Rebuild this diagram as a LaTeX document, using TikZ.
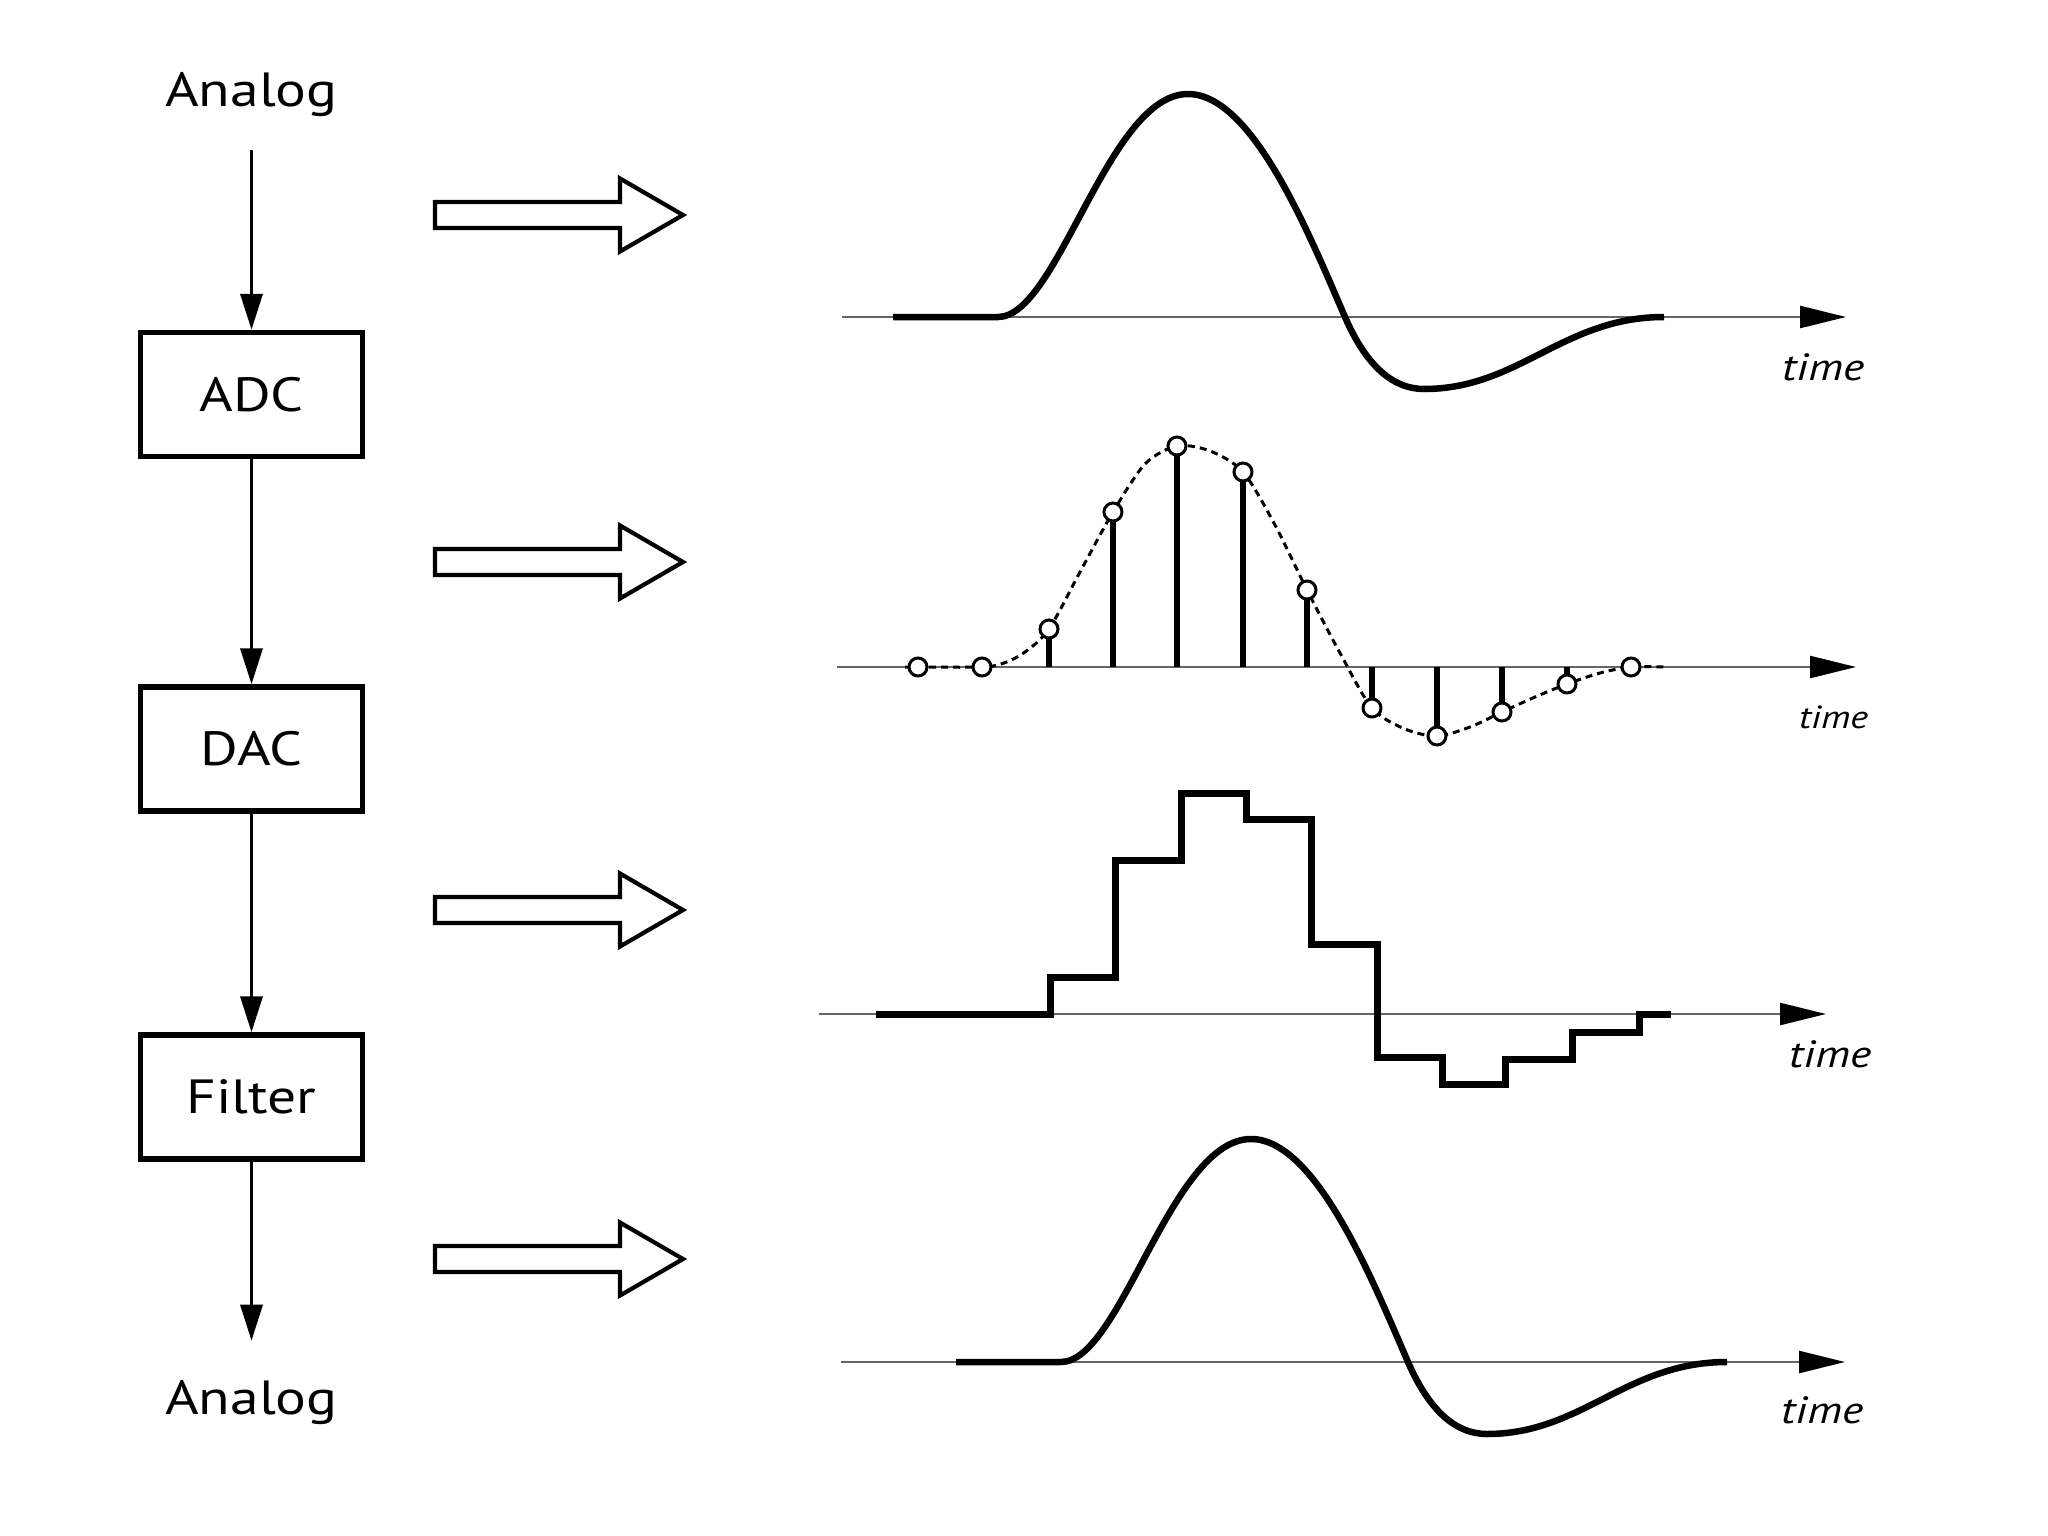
\documentclass[tikz,border=0pt]{standalone}
\usepackage{fontspec}
\setmainfont{PT Sans}
\newfontfamily\lab{PT Sans}[FakeStretch=1.2]
\usetikzlibrary{arrows.meta}
\tikzset{
 blk/.style={draw, line width=5.5pt, minimum width=222pt, minimum height=124pt, inner sep=0pt, font=\lab\fontsize{48}{56}\selectfont},
 lbl/.style={inner sep=0pt, font=\lab\fontsize{48}{56}\selectfont},
 tlbl/.style={inner sep=0pt, anchor=base west, font=\lab\itshape\fontsize{38}{44}\selectfont},
 tlbls/.style={inner sep=0pt, anchor=base west, font=\lab\itshape\fontsize{32}{38}\selectfont},
 flow/.style={line width=3.5pt, -{Triangle[length=36pt,width=22pt]}},
 axisln/.style={line width=2.5pt, black!60, -{Triangle[length=46pt,width=22pt,color=black]}},
 sig/.style={line width=6.5pt, line join=round},
 stair/.style={line width=7pt, line join=miter},
 dashsig/.style={line width=3pt, dash pattern=on 7pt off 5pt},
 stem/.style={line width=5.5pt},
 smp/.style={circle, draw, fill=white, line width=3pt, minimum size=18pt, inner sep=0pt},
 hollow/.style={draw, line width=4.2pt, fill=white, line join=miter},
 pulse/.pic={
   \draw[sig] (-105,0) -- (0,0) .. controls (60,0) and (110,-223) .. (190,-223)
     .. controls (255,-223) and (312,-80.5) .. (347,0)
     .. controls (369,50.6) and (396,72) .. (426,72)
     .. controls (521,72) and (565,0) .. (666,0);
 },
}
\begin{document}
\begin{tikzpicture}[x=1pt,y=-1pt]
\useasboundingbox (0,0) rectangle (2048,1536);
% left chain
\node[lbl, anchor=base] (ain) at (251.5,107) {Analog};
\node[blk] (adc) at (251.5,394.5) {ADC};
\node[blk] (dac) at (251.5,749) {DAC};
\node[blk] (flt) at (251.5,1097) {Filter};
\node[lbl, anchor=base] (aout) at (251.5,1414) {Analog};
\draw[flow, shorten <=33pt] (ain) -- (adc);
\draw[flow] (adc) -- (dac);
\draw[flow] (dac) -- (flt);
\draw[flow, shorten >=39pt] (flt) -- (aout);
% hollow arrows
\foreach \c in {215,562,910,1259} {
  \draw[hollow] (435,{\c-13}) -- (620,{\c-13}) -- (620,{\c-36.5}) -- (683,\c)
     -- (620,{\c+36.5}) -- (620,{\c+13}) -- (435,{\c+13}) -- cycle;
}
% panel 1: analog signal
\draw[axisln] (842,317) -- (1846,317);
\pic at (998,317) {pulse};
\node[tlbl] (t1) at (1782,380) {time};
% panel 2: sampled signal
\draw[axisln] (837,667) -- (1856,667);
\begin{scope}[shift={(0,667)}]
\draw[dashsig] plot[smooth] coordinates {(905,0) (918,0) (982,0) (1004,-4) (1025,-15) (1049,-38) (1080,-95) (1113,-155) (1145,-203) (1177,-221) (1210,-216) (1243,-195) (1275,-142) (1307,-77) (1340,-14) (1372,41) (1405,62) (1437,69) (1470,60) (1502,45) (1535,30) (1567,17) (1600,6) (1631,0) (1665,0)};
\foreach \x/\a in {1049/38,1113/155,1177/221,1243/195,1307/77,1372/-41,1437/-69,1502/-45,1567/-17}
  \draw[stem] (\x,0) -- (\x,-\a);
\foreach \x/\a/\n in {918/0/1,982/0/2,1049/38/3,1113/155/4,1177/221/5,1243/195/6,1307/77/7,1372/-41/8,1437/-69/9,1502/-45/10,1567/-17/11,1631/0/12}
  \node[smp] (s\n) at (\x,-\a) {};
\end{scope}
\node[tlbls] (t2) at (1799,728) {time};
% panel 3: staircase
\draw[axisln] (819,1014) -- (1826,1014);
\begin{scope}[shift={(0,1014)}]
\draw[stair] (876,0) -- (1050,0) -- (1050,-37) -- (1115,-37) -- (1115,-154) -- (1181,-154) -- (1181,-221) -- (1246,-221) -- (1246,-195) -- (1311,-195) -- (1311,-70) -- (1377,-70) -- (1377,43) -- (1442,43) -- (1442,70) -- (1505,70) -- (1505,45) -- (1572,45) -- (1572,18) -- (1639,18) -- (1639,0) -- (1671,0);
\end{scope}
\node[tlbl] (t3) at (1789,1067) {time};
% panel 4: reconstructed analog signal
\draw[axisln] (841,1362) -- (1845,1362);
\pic at (1061,1362) {pulse};
\node[tlbl] (t4) at (1781,1423) {time};
\end{tikzpicture}
\end{document}
